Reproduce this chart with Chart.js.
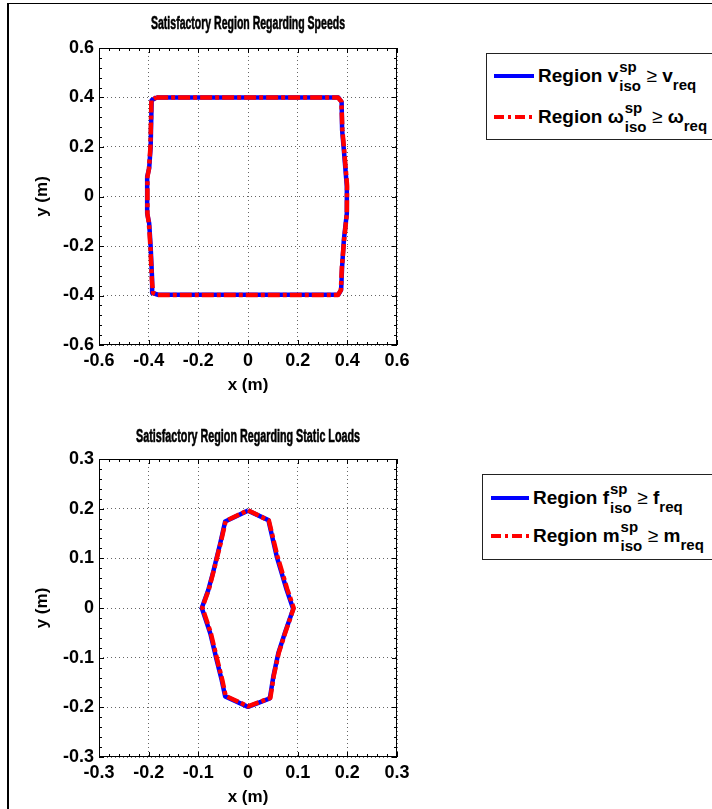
<!DOCTYPE html>
<html><head><meta charset="utf-8">
<script src="https://cdn.jsdelivr.net/npm/chart.js@4.4.1/dist/chart.umd.min.js"></script>
<style>
html,body{margin:0;padding:0;background:#fff;overflow:hidden;width:712px;height:809px;}
#frame{position:absolute;left:7px;top:3px;width:800px;height:900px;border-left:2px solid #000;border-top:1px solid #000;}
canvas{position:absolute;left:0;}
#c1{top:0;}
#c2{top:404px;}
.legend{position:absolute;background:#fff;border:1px solid #222;font-family:"Liberation Sans",Arial,sans-serif;font-weight:bold;font-size:19px;color:#000;width:300px;}
.legend svg{position:absolute;}
.txt{position:absolute;white-space:nowrap;line-height:22px;}
.ss{position:relative;display:inline-block;width:23px;height:0;}
.ss span{position:absolute;left:1px;font-size:15px;line-height:15px;}
.ss .sp{bottom:8px;}
.ss .sb{bottom:-11px;}
.sub{position:relative;top:8px;font-size:15px;}
.ge{font-weight:normal;}
</style></head>
<body>
<div id="frame"></div>
<canvas id="c1" width="712" height="404"></canvas>
<canvas id="c2" width="712" height="405"></canvas>

<div class="legend" style="left:486px;top:53px;height:85px;">
  <svg style="left:7px;top:19px" width="40" height="6"><line x1="0" y1="3" x2="40" y2="3" stroke="#0000ff" stroke-width="4"/></svg>
  <div class="txt" style="left:51px;top:11px;">Region v<span class="ss"><span class="sp">sp</span><span class="sb">iso</span></span> <span class="ge">≥</span> v<span class="sub">req</span></div>
  <svg style="left:7px;top:60px" width="40" height="6"><line x1="0" y1="3" x2="40" y2="3" stroke="#ff0000" stroke-width="4" stroke-dasharray="10 4 3 4"/></svg>
  <div class="txt" style="left:51px;top:52px;">Region ω<span class="ss"><span class="sp">sp</span><span class="sb">iso</span></span> <span class="ge">≥</span> ω<span class="sub">req</span></div>
</div>

<div class="legend" style="left:482px;top:474px;height:84px;">
  <svg style="left:8px;top:20px" width="40" height="6"><line x1="0" y1="3" x2="38" y2="3" stroke="#0000ff" stroke-width="4"/></svg>
  <div class="txt" style="left:50px;top:12px;">Region f<span class="ss"><span class="sp">sp</span><span class="sb">iso</span></span> <span class="ge">≥</span> f<span class="sub">req</span></div>
  <svg style="left:8px;top:58px" width="40" height="6"><line x1="0" y1="3" x2="38" y2="3" stroke="#ff0000" stroke-width="4" stroke-dasharray="10 4 3 4"/></svg>
  <div class="txt" style="left:50px;top:50px;">Region m<span class="ss"><span class="sp">sp</span><span class="sb">iso</span></span> <span class="ge">≥</span> m<span class="sub">req</span></div>
</div>

<script>
// ---------------- data ----------------
const speedTicks = [-0.6, -0.4, -0.2, 0, 0.2, 0.4, 0.6];
const speedTickLabels = ['-0.6', '-0.4', '-0.2', '0', '0.2', '0.4', '0.6'];
const loadTicks = [-0.3, -0.2, -0.1, 0, 0.1, 0.2, 0.3];
const loadTickLabels = ['-0.3', '-0.2', '-0.1', '0', '0.1', '0.2', '0.3'];

const titles = ['Satisfactory Region Regarding Speeds', 'Satisfactory Region Regarding Static Loads'];
const xTitle = 'x (m)';
const yTitle = 'y (m)';

// Region v_iso^sp >= v_req (blue)
const speedV_x = [-0.368, -0.2, 0, 0.2, 0.364, 0.377, 0.379, 0.386, 0.398, 0.398, 0.386, 0.379, 0.375, 0.364, 0.2, 0, -0.2, -0.362, -0.383, -0.386, -0.392, -0.398, -0.406, -0.406, -0.398, -0.392, -0.388, -0.368];
const speedV_y = [0.4, 0.4, 0.4, 0.4, 0.4, 0.382, 0.268, 0.188, 0.04, -0.068, -0.175, -0.283, -0.377, -0.397, -0.397, -0.397, -0.397, -0.397, -0.39, -0.337, -0.202, -0.108, -0.068, 0.08, 0.114, 0.2, 0.389, 0.4];
// Region w_iso^sp >= w_req (red)
const speedW_x = [-0.37, -0.1, 0.1, 0.362, 0.376, 0.38, 0.387, 0.399, 0.398, 0.387, 0.378, 0.374, 0.362, 0.1, -0.1, -0.364, -0.382, -0.387, -0.393, -0.399, -0.405, -0.405, -0.399, -0.393, -0.389, -0.37];
const speedW_y = [0.4, 0.4, 0.4, 0.4, 0.384, 0.27, 0.19, 0.045, -0.07, -0.178, -0.285, -0.378, -0.398, -0.398, -0.398, -0.398, -0.39, -0.34, -0.205, -0.11, -0.07, 0.078, 0.112, 0.198, 0.388, 0.4];

// Region f_iso^sp >= f_req (blue)
const loadF_x = [0, 0.041, 0.058, 0.078, 0.091, 0.074, 0.061, 0.051, 0.044, 0, -0.046, -0.053, -0.063, -0.076, -0.093, -0.08, -0.07, -0.056, -0.046, 0];
const loadF_y = [0.196, 0.177, 0.103, 0.036, -0.002, -0.051, -0.091, -0.138, -0.182, -0.199, -0.178, -0.145, -0.105, -0.051, 0, 0.036, 0.073, 0.13, 0.174, 0.196];
// Region m_iso^sp >= m_req (red)
const loadM_x = [0, 0.042, 0.059, 0.079, 0.092, 0.075, 0.062, 0.052, 0.045, 0, -0.045, -0.052, -0.062, -0.075, -0.092, -0.079, -0.069, -0.055, -0.045, 0];
const loadM_y = [0.197, 0.176, 0.105, 0.038, 0, -0.05, -0.09, -0.136, -0.181, -0.198, -0.177, -0.144, -0.104, -0.05, 0.001, 0.037, 0.075, 0.131, 0.175, 0.197];

// ---------------- drawing ----------------
const FONT = '"Liberation Sans", Arial, sans-serif';
const NARROW = '"Liberation Sans Narrow", "Arial Narrow", "Liberation Sans", Arial, sans-serif';
const toXY = (xs, ys) => xs.map((x, i) => ({x: x, y: ys[i]}));

// plot box with inward major/minor ticks (MATLAB style)
const boxPlugin = {
  id: 'box',
  afterDatasetsDraw(chart) {
    const {ctx, chartArea: a, scales: {x, y}} = chart;
    ctx.save();
    ctx.strokeStyle = '#000';
    ctx.lineWidth = 1;
    ctx.setLineDash([]);
    ctx.strokeRect(a.left + 0.5, a.top + 0.5, a.right - a.left - 1, a.bottom - a.top - 1);
    const marks = (scale, horizontal) => {
      const t = scale.ticks.map(k => k.value);
      for (let i = 0; i < t.length; i++) {
        const vals = [[t[i], 5]];
        if (i < t.length - 1) for (let j = 1; j < 5; j++) vals.push([t[i] + (t[i + 1] - t[i]) * j / 5, 3]);
        for (const [v, len] of vals) {
          const p = Math.round(scale.getPixelForValue(v)) + 0.5;
          ctx.beginPath();
          if (horizontal) {
            ctx.moveTo(p, a.bottom); ctx.lineTo(p, a.bottom - len);
            ctx.moveTo(p, a.top); ctx.lineTo(p, a.top + len);
          } else {
            ctx.moveTo(a.left, p); ctx.lineTo(a.left + len, p);
            ctx.moveTo(a.right, p); ctx.lineTo(a.right - len, p);
          }
          ctx.stroke();
        }
      }
    };
    marks(x, true);
    marks(y, false);
    ctx.restore();
  }
};

// condensed axes title (the original figure uses a narrow bold face)
const narrowTitle = {
  id: 'narrowTitle',
  afterDraw(chart, args, o) {
    const {ctx, chartArea: a} = chart;
    ctx.save();
    ctx.font = 'bold ' + o.size + 'px ' + NARROW;
    ctx.fillStyle = '#000';
    ctx.strokeStyle = '#000';
    ctx.lineWidth = 0.6;
    ctx.textAlign = 'center';
    ctx.textBaseline = 'middle';
    const w = ctx.measureText(o.text).width;
    ctx.translate((a.left + a.right) / 2, o.y);
    ctx.scale(o.width / w, 1);
    ctx.fillText(o.text, 0, 0);
    ctx.strokeText(o.text, 0, 0);
    ctx.restore();
  }
};

function build(id, cfg) {
  const tickFont = {family: FONT, size: 18, weight: 'bold'};
  const axisTitleFont = {family: FONT, size: 17, weight: 'bold', lineHeight: 1.2};
  const axis = (ticks) => ({
    type: 'linear',
    min: ticks[0],
    max: ticks[ticks.length - 1],
    afterBuildTicks: s => { s.ticks = ticks.map(v => ({value: v})); },
    grid: {color: 'rgba(0,0,0,0.6)', lineWidth: 1, drawTicks: false},
    border: {display: false, dash: [1, 3]},
  });
  const xs = axis(cfg.ticks);
  xs.ticks = {callback: (v, i) => cfg.labels[i], font: tickFont, color: '#000', padding: 5, maxRotation: 0, autoSkip: false};
  xs.title = {display: true, text: xTitle, font: axisTitleFont, color: '#000', padding: {top: 0, bottom: cfg.xtPad}};
  xs.afterFit = s => { s.height = cfg.xH; };
  const ys = axis(cfg.ticks);
  ys.ticks = {callback: (v, i) => cfg.labels[i], font: tickFont, color: '#000', padding: 5, autoSkip: false};
  ys.title = {display: true, text: yTitle, font: axisTitleFont, color: '#000', padding: {top: 31.8, bottom: 0}};
  ys.afterFit = s => { s.width = 99; };

  return new Chart(document.getElementById(id), {
    type: 'scatter',
    data: {
      datasets: [
        {label: cfg.names[0], data: toXY(cfg.bx, cfg.by), showLine: true, borderColor: '#0000ff', backgroundColor: '#0000ff', borderWidth: 4.5, pointRadius: 0, borderJoinStyle: 'round', order: 2, tension: 0},
        {label: cfg.names[1], data: toXY(cfg.rx, cfg.ry), showLine: true, borderColor: '#ff0000', backgroundColor: '#ff0000', borderWidth: 4.5, borderDash: [12, 3, 4, 3], pointRadius: 0, borderJoinStyle: 'round', order: 1, tension: 0}
      ]
    },
    options: {
      responsive: false,
      animation: false,
      events: [],
      layout: {padding: {left: 0, right: 315, top: cfg.top, bottom: 0}},
      plugins: {
        legend: {display: false},
        tooltip: {enabled: false},
        title: {display: false},
        narrowTitle: {text: cfg.title, size: 18, y: cfg.titleY, width: cfg.titleW}
      },
      scales: {x: xs, y: ys}
    },
    plugins: [boxPlugin, narrowTitle]
  });
}

build('c1', {
  title: titles[0], ticks: speedTicks, labels: speedTickLabels,
  bx: speedV_x, by: speedV_y, rx: speedW_x, ry: speedW_y,
  names: ['Region v_iso^sp >= v_req', 'Region w_iso^sp >= w_req'],
  top: 48, titleY: 24, titleW: 194, xH: 59, xtPad: 8.8
});
build('c2', {
  title: titles[1], ticks: loadTicks, labels: loadTickLabels,
  bx: loadF_x, by: loadF_y, rx: loadM_x, ry: loadM_y,
  names: ['Region f_iso^sp >= f_req', 'Region m_iso^sp >= m_req'],
  top: 55, titleY: 33, titleW: 224, xH: 52, xtPad: 1.8
});
</script>
</body></html>
